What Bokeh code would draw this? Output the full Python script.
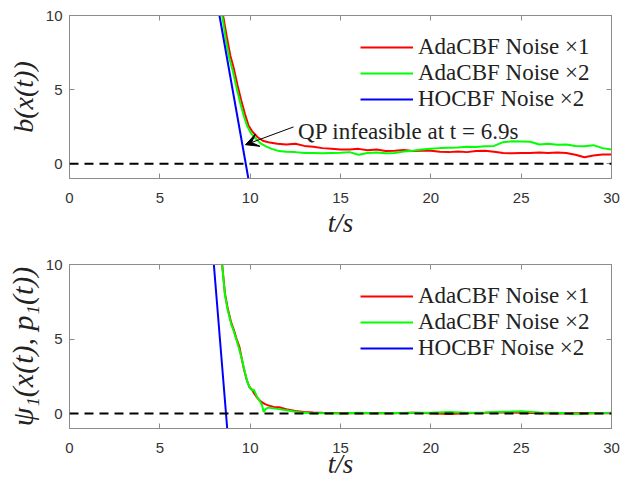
from bokeh.plotting import figure
from bokeh.layouts import column
from bokeh.models import LinearAxis, FixedTicker, Span, Arrow, VeeHead, Label, Range1d
from bokeh.embed import file_html
from bokeh.resources import INLINE

# ---------------- data: top panel b(x(t)) ----------------
t_red_b = [8.5, 8.7, 8.9, 9.1, 9.3, 9.5, 9.7, 9.9, 10.1, 10.4, 10.7, 11.0, 11.5, 12.0, 12.5,
           13.0, 13.5, 14.0, 14.5, 15.0, 15.5, 16.0, 16.5, 17.0, 17.5, 18.0, 18.5, 19.0,
           19.5, 20.0, 20.5, 21.0, 21.5, 22.0, 22.5, 23.0, 23.5, 24.0, 24.5, 25.0, 25.5,
           26.0, 26.5, 27.0, 27.5, 28.0, 28.5, 29.0, 29.5, 30.0]
b_red = [10.0, 8.6, 7.3, 6.4, 5.3, 4.3, 3.4, 2.6, 2.2, 1.8, 1.55, 1.45, 1.35, 1.3, 1.35,
         1.2, 1.15, 1.05, 1.0, 0.95, 0.95, 1.0, 0.9, 0.95, 0.85, 0.88, 0.92, 0.85,
         0.88, 0.87, 0.8, 0.78, 0.82, 0.78, 0.85, 0.88, 0.8, 0.72, 0.7, 0.72, 0.72,
         0.75, 0.72, 0.76, 0.72, 0.6, 0.43, 0.55, 0.62, 0.62]

t_green_b = [8.45, 8.65, 8.85, 9.05, 9.25, 9.45, 9.65, 9.85, 10.05, 10.3, 10.6, 10.9, 11.2,
             11.6, 12.0, 12.5, 13.0, 13.5, 14.0, 14.5, 15.0, 15.5, 16.0, 16.5, 17.0, 17.5,
             18.0, 18.5, 19.0, 19.5, 20.0, 20.5, 21.0, 21.5, 22.0, 22.5, 23.0, 23.5, 24.0,
             24.5, 25.0, 25.5, 26.0, 26.5, 27.0, 27.5, 28.0, 28.5, 29.0, 29.5, 30.0]
b_green = [10.0, 8.4, 7.1, 6.2, 5.1, 4.1, 3.2, 2.5, 2.05, 1.7, 1.35, 1.15, 1.0,
           0.85, 0.8, 0.78, 0.72, 0.72, 0.7, 0.72, 0.73, 0.78, 0.6, 0.72, 0.75, 0.7,
           0.72, 0.82, 0.88, 0.95, 1.0, 1.05, 1.08, 1.1, 1.15, 1.12, 1.18, 1.2, 1.45,
           1.52, 1.5, 1.48, 1.3, 1.35, 1.27, 1.3, 1.2, 1.18, 1.25, 1.05, 0.95]

t_blue_b = [8.3, 9.1, 9.9]
b_blue = [10.0, 4.5, -1.0]

# ---------------- data: bottom panel psi_1 ----------------
t_red_p = [8.45, 8.6, 8.75, 8.95, 9.1, 9.25, 9.4, 9.5, 9.65, 9.8, 9.95, 10.1, 10.25, 10.4,
           10.6, 10.8, 11.0, 11.3, 11.6, 12.0, 12.5, 13.0, 13.5, 14.0, 15.0, 16.0, 17.0,
           18.0, 19.0, 20.0, 21.0, 22.0, 23.0, 24.0, 25.0, 26.0, 27.0, 28.0, 29.0, 30.0]
p_red = [10.0, 8.1, 7.1, 6.1, 5.6, 5.0, 4.5, 3.9, 3.0, 2.3, 1.8, 1.6, 1.3, 1.05,
         0.8, 0.65, 0.55, 0.45, 0.42, 0.3, 0.18, 0.1, 0.07, 0.05, 0.03, 0.02, 0.04,
         0.03, 0.05, 0.02, -0.02, 0.03, 0.05, 0.08, 0.06, 0.03, 0.0, 0.02, 0.04, 0.03]

t_green_p = [8.45, 8.6, 8.75, 8.95, 9.1, 9.25, 9.4, 9.55, 9.7, 9.85, 10.0, 10.1, 10.2,
             10.35, 10.5, 10.65, 10.75, 10.85, 11.0, 11.3, 11.6, 12.0, 12.5, 13.0, 13.5,
             14.0, 15.0, 16.0, 17.0, 18.0, 19.0, 20.0, 21.0, 22.0, 23.0, 24.0, 25.0,
             26.0, 27.0, 28.0, 29.0, 30.0]
p_green = [10.0, 8.0, 7.0, 6.0, 5.5, 4.9, 4.3, 3.6, 2.8, 2.1, 1.7, 1.55, 1.6,
           1.2, 0.9, 0.6, 0.1, 0.3, 0.4, 0.35, 0.3, 0.22, 0.12, 0.05, 0.02,
           0.03, 0.0, 0.05, 0.02, 0.04, 0.06, 0.05, 0.1, 0.06, 0.08, 0.12, 0.15,
           0.08, 0.05, -0.02, 0.03, 0.05]

t_blue_p = [7.99, 8.36, 8.73]
p_blue = [10.0, 4.5, -1.0]

labels = ["AdaCBF Noise \u00d71", "AdaCBF Noise \u00d72", "HOCBF Noise \u00d72"]
x_ticks = [0, 5, 10, 15, 20, 25, 30]
y_ticks = [0, 5, 10]

FRAME = "#8c8c8c"
TICKTXT = "#333333"
SERIF = "Liberation Serif"
SANS = "Liberation Sans"


def make_fig(height, top, bottom, ylabel, ylabel_size, series, legend_y,
             x_standoff, x_label_standoff):
    p = figure(width=620, height=height, output_backend="svg", toolbar_location=None,
               x_range=Range1d(0, 30), y_range=Range1d(-1, 10),
               min_border_left=69, min_border_right=9, min_border_top=top,
               min_border_bottom=bottom)
    p.xgrid.visible = False
    p.ygrid.visible = False
    p.outline_line_color = FRAME
    p.outline_line_width = 1
    p.background_fill_color = "white"
    for ax in p.xaxis:
        ax.ticker = FixedTicker(ticks=x_ticks)
        ax.axis_label = "t/s"
        ax.axis_label_text_font_size = "27px"
        ax.major_label_standoff = x_standoff
        ax.axis_label_standoff = x_label_standoff
    for ax in p.yaxis:
        ax.ticker = FixedTicker(ticks=y_ticks)
        ax.axis_label = ylabel
        ax.axis_label_text_font_size = ylabel_size
        ax.major_label_standoff = 7
        ax.axis_label_standoff = 4
    for ax in list(p.xaxis) + list(p.yaxis):
        ax.major_tick_in = 5
        ax.major_tick_out = 0
        ax.minor_tick_line_color = None
        ax.axis_line_color = FRAME
        ax.major_tick_line_color = FRAME
        ax.major_label_text_font = SANS
        ax.major_label_text_font_size = "15px"
        ax.major_label_text_color = TICKTXT
        ax.axis_label_text_font = SERIF
        ax.axis_label_text_font_style = "italic"
        ax.axis_label_text_color = "#222222"
    top_ax = LinearAxis(ticker=FixedTicker(ticks=x_ticks), major_label_text_color=None,
                        major_label_standoff=0, major_tick_in=5, major_tick_out=0,
                        minor_tick_line_color=None, axis_line_color=FRAME,
                        major_tick_line_color=FRAME)
    right_ax = LinearAxis(ticker=FixedTicker(ticks=y_ticks), major_label_text_color=None,
                          major_label_standoff=0, major_tick_in=5, major_tick_out=0,
                          minor_tick_line_color=None, axis_line_color=FRAME,
                          major_tick_line_color=FRAME)
    p.add_layout(top_ax, "above")
    p.add_layout(right_ax, "right")

    colors = ["#ff0000", "#00ff00", "#0000ff"]
    for (xs, ys), c, lab in zip(series, colors, labels):
        p.line(xs, ys, line_color=c, line_width=2, legend_label=lab)

    p.add_layout(Span(location=0, dimension="width", line_color="black",
                      line_width=2, line_dash="9 6"))

    lg = p.legend[0]
    lg.location = (291, legend_y)
    lg.border_line_color = None
    lg.background_fill_alpha = 0
    lg.padding = 0
    lg.margin = 0
    lg.spacing = 0
    lg.glyph_width = 53
    lg.glyph_height = 26
    lg.label_height = 26
    lg.label_standoff = 5
    lg.label_text_font = SERIF
    lg.label_text_font_size = "23px"
    lg.label_text_color = "#222222"
    return p


p1 = make_fig(240, 15, 62, "b(x(t))", "28px",
              [(t_red_b, b_red), (t_green_b, b_green), (t_blue_b, b_blue)], 66, 14, 2)
p1.add_layout(Arrow(end=VeeHead(size=13, fill_color="black", line_color="black"),
                    x_start=12.4, y_start=2.48, x_end=9.74, y_end=1.28,
                    line_color="black", line_width=1))
p1.add_layout(Label(x=12.65, y=2.17, text="QP infeasible at t = 6.9s",
                    text_font=SERIF, text_font_size="23px", text_color="#222222",
                    text_baseline="alphabetic"))

p2 = make_fig(243, 24, 55, "\u03c8\u2081(x(t), p\u2081(t))", "30px",
              [(t_red_p, p_red), (t_green_p, p_green), (t_blue_p, p_blue)], 67, 14, -7)

layout = column(p1, p2, spacing=0)
open("out.html", "w").write(file_html(layout, INLINE))
